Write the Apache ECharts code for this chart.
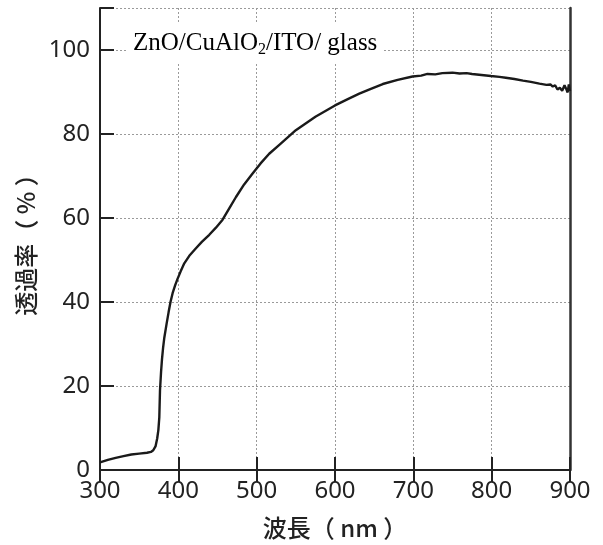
<!DOCTYPE html>
<html>
<head>
<meta charset="utf-8">
<script src="https://cdn.jsdelivr.net/npm/echarts@6/dist/echarts.min.js"></script>
<style>
  html, body { margin: 0; padding: 0; background: #fff; }
  #main { width: 603px; height: 545px; }
</style>
</head>
<body>
<div id="main"></div>
<script>
// wavelength (nm) and transmittance (%)
const wavelength = [300, 310, 320, 330, 340, 350, 360, 365, 368, 371, 373, 374.5, 375.7, 376.6, 378, 379.1, 380.5, 382.1, 385, 387.6,
  390, 392.7, 396, 399, 403, 407.6, 414, 422.5, 430, 439.5, 448, 456.5, 465, 473.6, 484, 494.8, 505, 516, 530, 550,
  575, 600, 615, 631, 645, 661, 680, 699, 710, 718, 728, 737, 750, 759, 768, 775, 790, 799, 810, 818, 829, 840, 850,
  861, 870, 875, 878, 881, 884, 887, 890, 893, 895, 897, 898.5, 900]
const transmittance = [1.8, 2.4, 2.9, 3.3, 3.7, 3.9, 4.1, 4.3, 4.7, 5.7, 7.5, 9.5, 12.5, 19, 23.5, 26.3, 29, 31.5, 34.8, 37.6,
  40, 42.1, 44, 45.5, 47.3, 49.2, 51, 52.8, 54.3, 56, 57.7, 59.6, 62.3, 65.0, 68, 70.6, 73, 75.3, 77.6, 80.9,
  84.1, 86.8, 88.2, 89.6, 90.7, 91.9, 92.9, 93.7, 93.9, 94.3, 94.2, 94.5, 94.6, 94.4, 94.5, 94.3, 94.0, 93.8, 93.6, 93.4, 93.1, 92.7, 92.4,
  92.0, 91.7, 91.8, 91.3, 91.6, 90.6, 91.0, 90.3, 91.6, 90.8, 89.9, 91.8, 90.2]
const xTicks = [300, 400, 500, 600, 700, 800, 900]
const yTicks = [0, 20, 40, 60, 80, 100]

const chart = echarts.init(document.getElementById('main'))

const tickFont = 'Noto Sans'
const splitStyle = { color: '#9a9a9a', width: 1, type: [2, 2] }

const option = {
  animation: false,
  backgroundColor: '#fff',
  grid: { left: 100, right: 33, top: 8, bottom: 74 },
  xAxis: [
    {
      type: 'value',
      min: xTicks[0],
      max: xTicks[xTicks.length - 1],
      interval: 100,
      name: '波長（ nm ）',
      nameLocation: 'middle',
      nameGap: 46,
      nameTextStyle: { fontFamily: 'Noto Sans CJK JP', fontSize: 24, fontWeight: 500, color: '#222' },
      axisLine: { lineStyle: { color: '#222', width: 2 } },
      axisTick: { inside: true, length: 13, lineStyle: { color: '#222', width: 2 } },
      axisLabel: { fontFamily: tickFont, fontSize: 24, color: '#222', margin: 9 },
      splitLine: { show: true, lineStyle: splitStyle }
    },
    {
      type: 'value',
      position: 'top',
      min: xTicks[0],
      max: xTicks[xTicks.length - 1],
      interval: 100,
      axisLine: { lineStyle: { color: '#222', width: 2 } },
      axisTick: { inside: true, length: 12, lineStyle: { color: '#222', width: 2 } },
      axisLabel: { show: false },
      splitLine: { show: false }
    }
  ],
  yAxis: [
    {
      type: 'value',
      min: yTicks[0],
      max: 110,
      interval: 20,
      name: '透過率（ % ）',
      nameLocation: 'middle',
      nameRotate: 90,
      nameGap: 61,
      nameTextStyle: { fontFamily: 'Noto Sans CJK JP', fontSize: 24, fontWeight: 500, color: '#222' },
      axisLine: { show: true, lineStyle: { color: '#222', width: 2 } },
      axisTick: { inside: true, length: 14, lineStyle: { color: '#222', width: 2 } },
      axisLabel: {
        fontFamily: tickFont, fontSize: 24, color: '#222', margin: 10,
        formatter: v => (yTicks.indexOf(v) >= 0 ? String(v) : '')
      },
      splitLine: { show: true, lineStyle: splitStyle }
    },
    {
      type: 'value',
      position: 'right',
      min: 0,
      max: 110,
      axisLine: { show: true, lineStyle: { color: '#333', width: 2.5 } },
      axisTick: { show: false },
      axisLabel: { show: false },
      splitLine: { show: false }
    }
  ],
  graphic: [
    {
      type: 'text',
      left: 127,
      top: 24,
      z: 100,
      style: {
        text: '{m|ZnO/CuAlO}{s|2}{m|/ITO/ glass}',
        backgroundColor: '#fff',
        padding: [4, 6, 4, 6],
        rich: {
          m: { fontFamily: 'Liberation Serif', fontSize: 25, color: '#222', lineHeight: 30, verticalAlign: 'middle' },
          s: { fontFamily: 'Liberation Serif', fontSize: 16, color: '#222', lineHeight: 30, verticalAlign: 'bottom' }
        }
      }
    }
  ],
  series: [
    {
      type: 'line',
      data: wavelength.map((w, i) => [w, transmittance[i]]),
      showSymbol: false,
      smooth: false,
      lineStyle: { color: '#1a1a1a', width: 2.4 }
    }
  ]
}

chart.setOption(option)
</script>
</body>
</html>
